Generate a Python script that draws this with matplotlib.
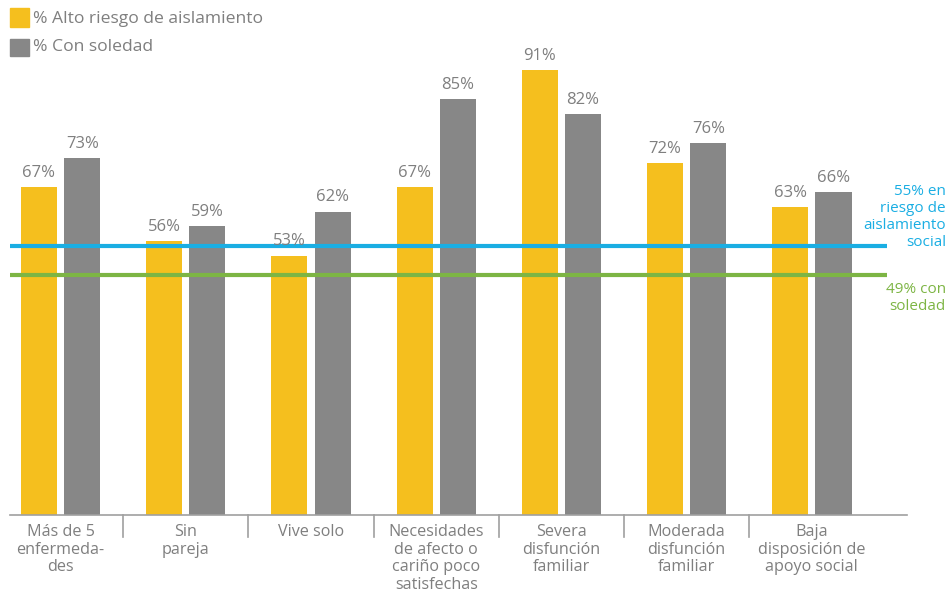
import numpy as np
import matplotlib.pyplot as plt
from matplotlib.patches import Rectangle

plt.rcParams['font.family'] = ['Open Sans', 'DejaVu Sans']

categorias = ['Más de 5\nenfermeda-\ndes', 'Sin\npareja', 'Vive solo',
              'Necesidades\nde afecto o\ncariño poco\nsatisfechas',
              'Severa\ndisfunción\nfamiliar', 'Moderada\ndisfunción\nfamiliar',
              'Baja\ndisposición de\napoyo social']
aislamiento = [67, 56, 53, 67, 91, 72, 63]
soledad = [73, 59, 62, 85, 82, 76, 66]
ref_aislamiento = 55
ref_soledad = 49

amarillo = '#F5BF1E'
gris = '#878787'
azul = '#1AAEE3'
verde = '#7DB544'
texto = '#7F7F7F'

W, H = 948, 594
fig = plt.figure(figsize=(W / 100, H / 100), dpi=100)
# axes placed in pixel terms: baseline at y=515, spans x 10..907
ax = fig.add_axes([10 / W, (H - 515) / H, 897 / W, 515 / H])
ax.set_xlim(-0.404, 6.76)
ax.set_ylim(0, 105.3)
ax.axis('off')

x = np.arange(len(categorias))
w = 0.288
off = 0.173
b1 = ax.bar(x - off, aislamiento, w, color=amarillo)
b2 = ax.bar(x + off, soledad, w, color=gris)

for xs, vals in ((x - off, aislamiento), (x + off, soledad)):
    for xi, v in zip(xs, vals):
        ax.text(xi, v + 1.3, f'{v}%', ha='center', va='bottom',
                fontsize=12, color=texto)

# reference lines
ax.plot([-0.404, 6.6], [ref_aislamiento] * 2, color=azul, lw=3,
        solid_capstyle='butt')
ax.plot([-0.404, 6.6], [ref_soledad] * 2, color=verde, lw=3,
        solid_capstyle='butt')

# baseline and group dividers
ax.plot([-0.404, 6.76], [0, 0], color='#A0A0A0', lw=1.2, clip_on=False)
for d in x[:-1] + 0.5:
    ax.plot([d, d], [0, -4.5], color='#A0A0A0', lw=1.2, clip_on=False)

for xi, lab in zip(x, categorias):
    ax.text(xi, -1.9, lab, ha='center', va='top', fontsize=11.6,
            color=texto, linespacing=1.13)

fig.text(946 / W, 1 - 184 / H,
         f'{ref_aislamiento}% en\nriesgo de\naislamiento\nsocial',
         ha='right', va='top', color=azul, fontsize=11, linespacing=1.18)
fig.text(946 / W, 1 - 282 / H, f'{ref_soledad}% con\nsoledad',
         ha='right', va='top', color=verde, fontsize=11, linespacing=1.18)

# legend
fig.patches.append(Rectangle((10 / W, 1 - 27 / H), 19 / W, 19 / H,
                             transform=fig.transFigure, color=amarillo))
fig.patches.append(Rectangle((10 / W, 1 - 56 / H), 19 / W, 17 / H,
                             transform=fig.transFigure, color=gris))
fig.text(33 / W, 1 - 19 / H, '% Alto riesgo de aislamiento', va='center',
         fontsize=12.6, color=texto)
fig.text(33 / W, 1 - 47 / H, '% Con soledad', va='center',
         fontsize=12.6, color=texto)

fig.savefig('out.png', dpi=100)
